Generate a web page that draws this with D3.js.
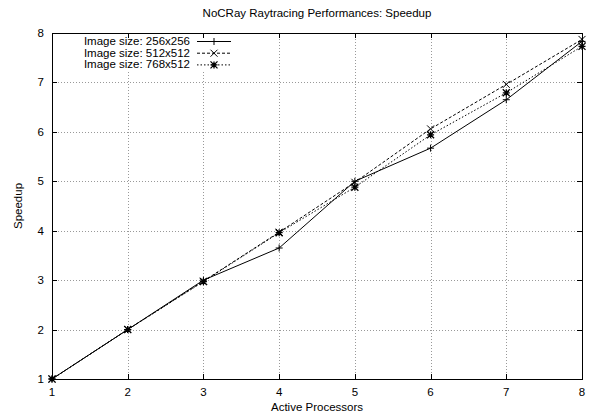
<!DOCTYPE html>
<html>

<head>
  <meta http-equiv="content-type" content="text/html; charset=utf-8">
  <title>NoCRay Raytracing Performances: Speedup</title>
  <style>
    body { margin: 0; background: #fff; }
    svg#canvas { display: block; font-family: "Liberation Sans", Arial, sans-serif; }
  </style>
</head>

<body>
  <svg id="canvas"></svg>

  <script src="https://d3js.org/d3.v7.min.js"></script>
  <script>

    const processors = [1, 2, 3, 4, 5, 6, 7, 8];
    const speedup256 = [1, 2, 3.0, 3.65, 5.0, 5.67, 6.65, 7.83];
    const speedup512 = [1, 2, 2.98, 3.97, 4.98, 6.06, 6.96, 7.87];
    const speedup768 = [1, 2, 2.97, 3.96, 4.88, 5.94, 6.79, 7.73];
    const seriesNames = ["Image size: 256x256", "Image size: 512x512", "Image size: 768x512"];
    const xTicks = [1, 2, 3, 4, 5, 6, 7, 8];
    const yTicks = [1, 2, 3, 4, 5, 6, 7, 8];

    const series = [
      { name: seriesNames[0], values: speedup256, dash: null, marker: "plus" },
      { name: seriesNames[1], values: speedup512, dash: "3,2", marker: "cross" },
      { name: seriesNames[2], values: speedup768, dash: "1.5,2", marker: "star" }
    ];

    const W = 593, H = 415;
    const dims = { left: 52, right: 582, top: 33, bottom: 379 };
    const fs = 11.5;

    const svg = d3.select("svg#canvas").attr("width", W).attr("height", H);

    const x = d3.scaleLinear().domain([1, 8]).range([dims.left, dims.right]);
    const y = d3.scaleLinear().domain([1, 8]).range([dims.bottom, dims.top]);

    // grid
    const grid = svg.append("g")
      .attr("stroke", "#999").attr("stroke-width", 1).attr("stroke-dasharray", "1,2");
    grid.selectAll(".gx").data(xTicks.slice(1, -1)).enter().append("line")
      .attr("x1", d => Math.round(x(d)) + 0.5).attr("x2", d => Math.round(x(d)) + 0.5)
      .attr("y1", dims.top).attr("y2", dims.bottom);
    grid.selectAll(".gy").data(yTicks.slice(1, -1)).enter().append("line")
      .attr("y1", d => Math.round(y(d)) + 0.5).attr("y2", d => Math.round(y(d)) + 0.5)
      .attr("x1", dims.left).attr("x2", dims.right);

    // legend background hides the grid
    svg.append("rect").attr("x", dims.left + 1).attr("y", dims.top + 1)
      .attr("width", 190).attr("height", 38).attr("fill", "#fff");

    // ticks on all sides (mirrored, inward)
    const tk = 5;
    const ticks = svg.append("g").attr("stroke", "#000").attr("stroke-width", 1);
    xTicks.forEach(d => {
      const px = Math.round(x(d)) + 0.5;
      ticks.append("line").attr("x1", px).attr("x2", px).attr("y1", dims.bottom).attr("y2", dims.bottom - tk);
      ticks.append("line").attr("x1", px).attr("x2", px).attr("y1", dims.top).attr("y2", dims.top + tk);
    });
    yTicks.forEach(d => {
      const py = Math.round(y(d)) + 0.5;
      ticks.append("line").attr("y1", py).attr("y2", py).attr("x1", dims.left).attr("x2", dims.left + tk);
      ticks.append("line").attr("y1", py).attr("y2", py).attr("x1", dims.right).attr("x2", dims.right - tk);
    });

    // tick labels
    svg.selectAll(".xl").data(xTicks).enter().append("text")
      .attr("x", d => x(d)).attr("y", dims.bottom + 17)
      .attr("text-anchor", "middle").attr("font-size", fs).attr("fill", "#000")
      .text(d => d);
    svg.selectAll(".yl").data(yTicks).enter().append("text")
      .attr("x", dims.left - 8).attr("y", d => y(d) + 4)
      .attr("text-anchor", "end").attr("font-size", fs).attr("fill", "#000")
      .text(d => d);

    const marker = (g, type, cx, cy) => {
      const s = 3.5;
      const p = g.append("path").attr("stroke", "#000").attr("stroke-width", 1).attr("fill", "none");
      if (type == "plus") p.attr("d", `M${cx - s},${cy}H${cx + s}M${cx},${cy - s}V${cy + s}`);
      else if (type == "cross") p.attr("d", `M${cx - s},${cy - s}L${cx + s},${cy + s}M${cx - s},${cy + s}L${cx + s},${cy - s}`);
      else p.attr("d", `M${cx - s},${cy}H${cx + s}M${cx},${cy - s}V${cy + s}M${cx - s},${cy - s}L${cx + s},${cy + s}M${cx - s},${cy + s}L${cx + s},${cy - s}`)
        .attr("stroke-width", 1.3);
    };

    const line = d3.line().x((d, i) => x(processors[i])).y(d => y(d));

    series.forEach((s, k) => {
      const g = svg.append("g");
      g.append("path").datum(s.values)
        .attr("d", line).attr("fill", "none").attr("stroke", "#000").attr("stroke-width", 1)
        .attr("stroke-dasharray", s.dash);
      s.values.forEach((v, i) => marker(g, s.marker, x(processors[i]), y(v)));

      // legend entry
      const ly = 41 + k * 11.7;
      svg.append("text").attr("x", 190).attr("y", ly + 4)
        .attr("text-anchor", "end").attr("font-size", fs).attr("fill", "#000").text(s.name);
      svg.append("line").attr("x1", 197).attr("x2", 231).attr("y1", ly + 0.5).attr("y2", ly + 0.5)
        .attr("stroke", "#000").attr("stroke-width", 1).attr("stroke-dasharray", s.dash);
      marker(svg, s.marker, 214, ly + 0.5);
    });

    // frame
    svg.append("rect").attr("x", dims.left + 0.5).attr("y", dims.top + 0.5)
      .attr("width", dims.right - dims.left).attr("height", dims.bottom - dims.top)
      .attr("fill", "none").attr("stroke", "#000").attr("stroke-width", 1);

    // titles
    svg.append("text").attr("x", (dims.left + dims.right) / 2).attr("y", 17)
      .attr("text-anchor", "middle").attr("font-size", fs).attr("fill", "#000")
      .text("NoCRay Raytracing Performances: Speedup");
    svg.append("text").attr("x", (dims.left + dims.right) / 2).attr("y", 411)
      .attr("text-anchor", "middle").attr("font-size", fs).attr("fill", "#000")
      .text("Active Processors");
    svg.append("text")
      .attr("transform", `translate(22,${(dims.top + dims.bottom) / 2}) rotate(-90)`)
      .attr("text-anchor", "middle").attr("font-size", fs).attr("fill", "#000")
      .text("Speedup");

  </script>
</body>

</html>
